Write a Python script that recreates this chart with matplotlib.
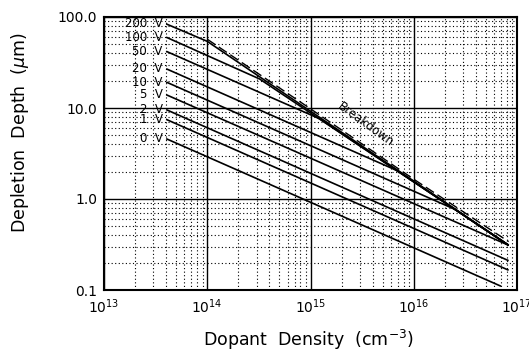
import matplotlib
matplotlib.use("Agg")
import matplotlib.pyplot as plt
from matplotlib.ticker import LogLocator, FixedLocator

# bias voltages and their curves (dopant density in cm^-3, depth in um)
volts = [0, 1, 2, 5, 10, 20, 50, 100, 200]
curve_n = [
    [4e13, 7e16],
    [4e13, 8.3e16],
    [4e13, 8.3e16],
    [4e13, 8.3e16],
    [4e13, 2.5e16, 8.3e16],
    [4e13, 6.9e15, 8.3e16],
    [4e13, 1.23e15, 8.3e16],
    [4e13, 3.2e14, 8.3e16],
    [4e13, 1.0e14, 8.3e16],
]
curve_w = [
    [4.6, 0.11],
    [7.5, 0.165],
    [9.6, 0.21],
    [14.0, 0.31],
    [19.3, 0.77, 0.31],
    [27.0, 2.05, 0.31],
    [42.0, 7.6, 0.31],
    [60.0, 20.9, 0.31],
    [84.0, 54.0, 0.31],
]

# breakdown limit (dashed)
bd_n = [1.0e14, 1.0e15, 1.0e16, 8.3e16]
bd_w = [57.0, 9.8, 1.65, 0.34]

fig = plt.figure(figsize=(5.29, 3.54), dpi=100)
ax = fig.add_axes([104 / 529, 1 - 290 / 354, 413 / 529, 273 / 354])

ax.set_xscale("log")
ax.set_yscale("log")
ax.set_xlim(1e13, 1e17)
ax.set_ylim(0.1, 100)

# grid: solid decades, dotted minors
ax.xaxis.set_minor_locator(LogLocator(base=10, subs=range(2, 10)))
ax.yaxis.set_minor_locator(LogLocator(base=10, subs=range(2, 10)))
ax.grid(which="major", color="black", linewidth=1.0, linestyle="-")
ax.grid(which="minor", color="black", linewidth=0.8, linestyle=(0, (1, 2.2)))
ax.set_axisbelow(True)

for n, w in zip(curve_n, curve_w):
    ax.plot(n, w, color="black", linewidth=1.2, solid_capstyle="butt")

ax.plot(bd_n, bd_w, color="black", linewidth=1.0, linestyle=(0, (7, 3)))

# voltage labels at the left end of each curve
for v, w in zip(volts, curve_w):
    ax.text(3.7e13, w[0], f"{v}  V", ha="right", va="center", fontsize=8.5,
            family="DejaVu Sans")

ax.text(3.4e15, 6.5, "Breakdown", rotation=-36, ha="center", va="center",
        fontsize=8.5, family="DejaVu Sans")

ax.yaxis.set_major_locator(FixedLocator([0.1, 1, 10, 100]))
ax.set_yticklabels(["0.1", "1.0", "10.0", "100.0"])
ax.xaxis.set_major_locator(FixedLocator([1e13, 1e14, 1e15, 1e16, 1e17]))
ax.set_xticklabels(["$10^{13}$", "$10^{14}$", "$10^{15}$", "$10^{16}$", "$10^{17}$"])
ax.tick_params(which="both", length=0, labelsize=10, pad=5)

for s in ax.spines.values():
    s.set_linewidth(1.5)
    s.set_color("black")

fig.text(20 / 529, 1 - 133 / 354, "Depletion  Depth  ($\\mu$m)", rotation=90,
         ha="center", va="center", fontsize=12.5)
fig.text(308 / 529, 1 - 340 / 354, "Dopant  Density  (cm$^{-3}$)",
         ha="center", va="center", fontsize=12.5)

fig.savefig("out.png", dpi=100)
